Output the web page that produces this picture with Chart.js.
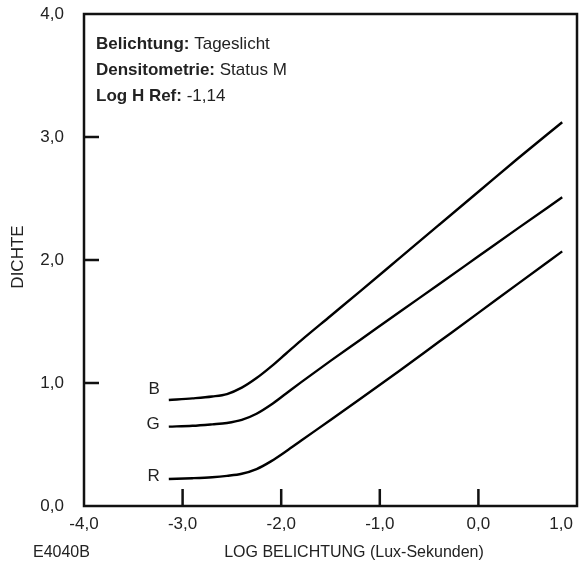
<!DOCTYPE html>
<html>
<head>
<meta charset="utf-8">
<script src="https://cdn.jsdelivr.net/npm/chart.js@4/dist/chart.umd.min.js"></script>
<style>
  html, body { margin: 0; padding: 0; background: #fff; }
  #wrap { width: 584px; height: 576px; position: relative; }
</style>
</head>
<body>
<div id="wrap"><canvas id="kurve"></canvas></div>
<script>
// Werte (Log H, Dichte)
const logH = [-3.14, -2.9, -2.7, -2.55, -2.4, -2.25, -2.1, -1.95, -1.8, -1.5, -1.2, -0.8, -0.4, 0.0, 0.4, 0.85];
const dichteB = [0.862, 0.875, 0.89, 0.91, 0.962, 1.04, 1.135, 1.24, 1.345, 1.545, 1.745, 2.015, 2.285, 2.555, 2.825, 3.12];
const dichteG = [0.645, 0.652, 0.664, 0.675, 0.70, 0.75, 0.825, 0.915, 1.005, 1.18, 1.35, 1.577, 1.803, 2.03, 2.257, 2.51];
const dichteR = [0.22, 0.226, 0.234, 0.245, 0.262, 0.30, 0.365, 0.445, 0.53, 0.70, 0.87, 1.10, 1.335, 1.57, 1.806, 2.07];
const kurvenNamen = ['B', 'G', 'R'];
const xTicks = [-4, -3, -2, -1, 0, 1];
const yTicks = [0, 1, 2, 3, 4];

const infoZeilen = [
  ['Belichtung:', 'Tageslicht'],
  ['Densitometrie:', 'Status M'],
  ['Log H Ref:', '-1,14']
];

const FONT = '"Liberation Sans", Arial, Helvetica, sans-serif';
const fmt = v => v.toFixed(1).replace('.', ',');

function punkte(ys) {
  return logH.map((x, i) => ({ x: x, y: ys[i] }));
}

// Rahmen, Striche nach innen, Beschriftungen
const rahmenPlugin = {
  id: 'rahmen',
  afterDraw(chart) {
    const ctx = chart.ctx;
    const a = chart.chartArea;
    const xs = chart.scales.x;
    const ys = chart.scales.y;
    ctx.save();
    ctx.strokeStyle = '#111';
    ctx.lineWidth = 2.5;
    ctx.strokeRect(a.left, a.top, a.right - a.left, a.bottom - a.top);

    ctx.beginPath();
    xTicks.forEach(v => {
      if (v <= -4 || v >= 1) return;
      const px = xs.getPixelForValue(v);
      ctx.moveTo(px, a.bottom);
      ctx.lineTo(px, a.bottom - 17);
    });
    yTicks.forEach(v => {
      if (v <= 0 || v >= 4) return;
      const py = ys.getPixelForValue(v);
      ctx.moveTo(a.left, py);
      ctx.lineTo(a.left + 15, py);
    });
    ctx.stroke();

    // x-Beschriftung (letzte rechtsbuendig wie im Original)
    ctx.fillStyle = '#222';
    ctx.font = '17px ' + FONT;
    ctx.textBaseline = 'top';
    xTicks.forEach(v => {
      const t = fmt(v);
      const w = ctx.measureText(t).width;
      let px = xs.getPixelForValue(v) - w / 2;
      if (px + w > chart.width - 11) px = chart.width - 11 - w;
      ctx.fillText(t, px, a.bottom + 10);
    });

    // Achsentitel
    ctx.font = '16px ' + FONT;
    ctx.textBaseline = 'alphabetic';
    ctx.textAlign = 'left';
    ctx.fillText('E4040B', 33, 557);
    ctx.textAlign = 'center';
    ctx.fillText('LOG BELICHTUNG (Lux-Sekunden)', 354, 557);
    ctx.save();
    ctx.font = '17px ' + FONT;
    ctx.translate(23, 257);
    ctx.rotate(-Math.PI / 2);
    ctx.fillText('DICHTE', 0, 0);
    ctx.restore();

    // Infotext oben links
    ctx.textAlign = 'left';
    infoZeilen.forEach((z, i) => {
      const y = 49 + i * 26;
      ctx.font = 'bold 17px ' + FONT;
      ctx.fillText(z[0] + ' ', 96, y);
      const w = ctx.measureText(z[0] + ' ').width;
      ctx.font = '17px ' + FONT;
      ctx.fillText(z[1], 96 + w, y);
    });

    // Kurvennamen
    ctx.font = '17px ' + FONT;
    ctx.textAlign = 'right';
    ctx.textBaseline = 'middle';
    const versatz = [0.09, 0.018, 0.02];
    chart.data.datasets.forEach((ds, i) => {
      const p0 = ds.data[0];
      const px = xs.getPixelForValue(p0.x) - 9;
      const py = ys.getPixelForValue(p0.y + versatz[i]);
      ctx.fillText(kurvenNamen[i], px, py);
    });
    ctx.restore();
  }
};

const linie = { borderColor: '#000', borderWidth: 2.4, pointRadius: 0, fill: false, cubicInterpolationMode: 'monotone' };

new Chart(document.getElementById('kurve'), {
  type: 'line',
  data: {
    datasets: [
      Object.assign({ label: 'B', data: punkte(dichteB) }, linie),
      Object.assign({ label: 'G', data: punkte(dichteG) }, linie),
      Object.assign({ label: 'R', data: punkte(dichteR) }, linie)
    ]
  },
  options: {
    responsive: true,
    maintainAspectRatio: false,
    animation: false,
    layout: { padding: { top: 14, right: 7, left: 0, bottom: 0 } },
    plugins: { legend: { display: false }, tooltip: { enabled: false } },
    scales: {
      x: {
        type: 'linear', min: -4, max: 1,
        grid: { display: false, drawTicks: false },
        border: { display: false },
        ticks: { display: false, stepSize: 1 },
        afterFit: s => { s.height = 70; s.paddingLeft = 0; s.paddingRight = 0; }
      },
      y: {
        min: 0, max: 4,
        grid: { display: false, drawTicks: false },
        border: { display: false },
        ticks: {
          stepSize: 1, padding: 20, color: '#222',
          font: { size: 17, family: FONT },
          callback: v => fmt(v)
        },
        afterFit: s => { s.width = 84; s.paddingTop = 0; s.paddingBottom = 0; }
      }
    }
  },
  plugins: [rahmenPlugin]
});
</script>
</body>
</html>
